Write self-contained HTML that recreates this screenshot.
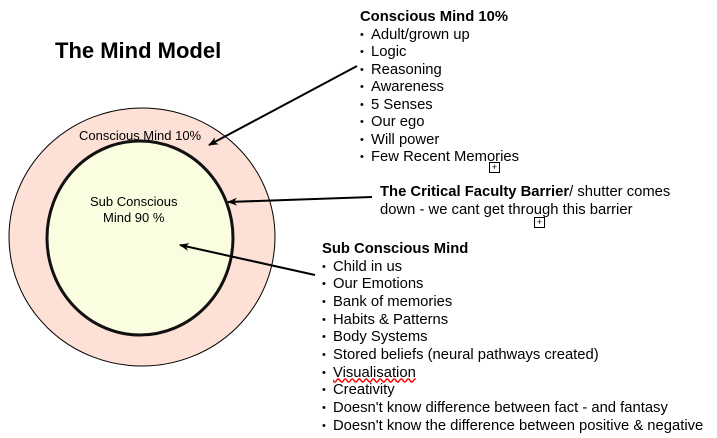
<!DOCTYPE html>
<html><head><meta charset="utf-8"><style>
body{margin:0;width:717px;height:438px;background:#fff;position:relative;overflow:hidden;font-family:"Liberation Sans",Arial,sans-serif;color:#000}
.t{position:absolute;font-size:14.8px;line-height:17.5px;white-space:nowrap}
.b{font-weight:bold}
ul{margin:0;padding:0;list-style:none}
li{display:block;height:17.5px;line-height:17.5px}
li:before{content:"•";display:inline-block;width:11px;font-size:11px;line-height:10px;vertical-align:1px}
.box{position:absolute;width:9px;height:9px;border:1px solid #000;font-size:9px;line-height:9px;text-align:center}
</style></head><body>
<svg width="717" height="438" style="position:absolute;left:0;top:0">
<defs><marker id="a" markerWidth="10" markerHeight="8" refX="9" refY="4" orient="auto" markerUnits="userSpaceOnUse"><path d="M0,0 L10,4 L0,8 L3,4z" fill="#000"/></marker></defs>
<ellipse cx="142" cy="237" rx="133" ry="129" fill="#fde0d6" stroke="#000" stroke-width="1"/>
<ellipse cx="140" cy="238" rx="93" ry="97" fill="#fbfde0" stroke="#111" stroke-width="3"/>
<line x1="357" y1="66" x2="209" y2="145" stroke="#000" stroke-width="2" marker-end="url(#a)"/>
<line x1="372" y1="197" x2="228" y2="202" stroke="#000" stroke-width="2" marker-end="url(#a)"/>
<line x1="315" y1="275" x2="180" y2="245" stroke="#000" stroke-width="2" marker-end="url(#a)"/>
</svg>
<div class="t b" style="left:55px;top:38px;font-size:22px;line-height:26px">The Mind Model</div>
<div class="t" style="left:79px;top:127px;font-size:13px">Conscious Mind 10%</div>
<div class="t" style="left:90px;top:194px;font-size:13px;text-align:center;line-height:16px">Sub Conscious<br>Mind 90 %</div>
<div class="t" style="left:360px;top:9px"><div class="b">Conscious Mind 10%</div><ul><li>Adult/grown up</li><li>Logic</li><li>Reasoning</li><li>Awareness</li><li>5 Senses</li><li>Our ego</li><li>Will power</li><li>Few Recent Memories</li></ul></div>
<div class="box" style="left:489px;top:162px">+</div>
<div class="t" style="left:380px;top:184px"><span class="b">The Critical Faculty Barrier</span>/ shutter comes<br>down - we cant get through this barrier</div>
<div class="box" style="left:534px;top:217px">+</div>
<div class="t" style="left:322px;top:241px"><div class="b">Sub Conscious Mind</div><ul style="line-height:17.7px"><li style="height:17.7px">Child in us</li><li style="height:17.7px">Our Emotions</li><li style="height:17.7px">Bank of memories</li><li style="height:17.7px">Habits &amp; Patterns</li><li style="height:17.7px">Body Systems</li><li style="height:17.7px">Stored beliefs (neural pathways created)</li><li style="height:17.7px"><span style="text-decoration:underline wavy red">Visualisation</span></li><li style="height:17.7px">Creativity</li><li style="height:17.7px">Doesn't know difference between fact - and fantasy</li><li style="height:17.7px">Doesn't know the difference between positive &amp; negative</li></ul></div>
</body></html>
